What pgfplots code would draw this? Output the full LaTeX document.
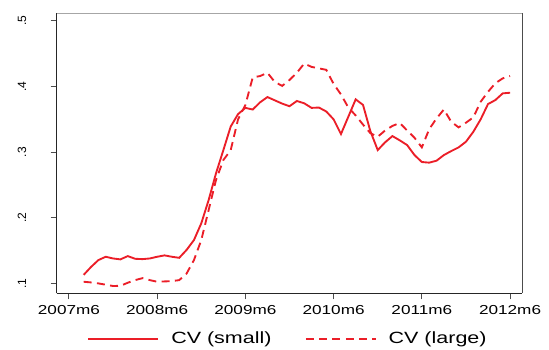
\documentclass[border=0pt]{standalone}
\usepackage{pgfplots}
\pgfplotsset{compat=1.18}
\usepackage{fontspec}
\setmainfont{Liberation Sans}[FakeStretch=1.32]
\newfontfamily\ysans{Liberation Sans}
\definecolor{cvred}{RGB}{235,30,40}
\begin{document}
\begin{tikzpicture}
\useasboundingbox (-42.5pt,-41.8pt) rectangle (369.2pt,220pt);
\begin{axis}[
  at={(0pt,0pt)}, anchor=south west,
  scale only axis, width=349.2pt, height=210pt,
  xmin=-1.67, xmax=61.67, ymin=0.0848, ymax=0.5116,
  axis x line*=bottom, axis y line*=left,
  axis line style={black!85, line width=1.1pt},
  xtick={0,12,24,36,48,60},
  xticklabels={2007m6,2008m6,2009m6,2010m6,2011m6,2012m6},
  ytick={0.1,0.2,0.3,0.4,0.5},
  yticklabels={.1,.2,.3,.4,.5},
  xtick align=outside, ytick align=outside, major tick length=4.5pt,
  every tick/.style={black!70, line width=0.7pt},
  xticklabel style={font=\fontsize{9.75}{11}\selectfont, anchor=base, inner sep=0pt, yshift=-11.5pt},
  yticklabel style={font=\ysans\fontsize{9}{10}\selectfont, rotate=90, anchor=base, inner sep=0pt, yshift=18.5pt},
  legend columns=2,
  legend style={draw=none, fill=none, at={(0.4946,-0.162)}, anchor=center,
    font=\fontsize{12.2}{14}\selectfont, inner sep=0pt,
    nodes={inner sep=0pt}, column sep=9pt,
    /tikz/every even column/.append style={column sep=25pt}},
  legend image code/.code={\draw[#1] (0pt,0pt) -- (52.5pt,0pt);},
  clip=false,
]
\addplot[cvred, line width=1.4pt] table[x=m,y=v] {
m v
2 .113
3 .125
4 .1355
5 .1406
6 .138
7 .1366
8 .1416
9 .1375
10 .137
11 .138
12 .1406
13 .1427
14 .1406
15 .139
16 .151
17 .166
18 .1915
19 .227
20 .2677
21 .303
22 .339
23 .358
24 .3675
25 .365
26 .376
27 .384
28 .379
29 .374
30 .370
31 .378
32 .3745
33 .3675
34 .368
35 .362
36 .350
37 .3276
38 .354
39 .3805
40 .372
41 .332
42 .3032
43 .315
44 .3245
45 .318
46 .3108
47 .2956
48 .285
49 .284
50 .287
51 .2956
52 .3017
53 .3073
54 .3159
55 .331
56 .35
57 .3733
58 .3794
59 .3896
60 .3906
};
\addlegendentry{CV (small)}
\addplot[cvred, line width=1.4pt, dash pattern=on 6pt off 4pt] table[x=m,y=v] {
m v
2 .1025
3 .1015
4 .100
5 .098
6 .096
7 .0963
8 .101
9 .105
10 .108
11 .105
12 .1025
13 .103
14 .1035
15 .105
16 .115
17 .1355
18 .166
19 .2117
20 .2575
21 .288
22 .303
23 .350
24 .372
25 .414
26 .416
27 .421
28 .407
29 .401
30 .410
31 .421
32 .435
33 .430
34 .4277
35 .4255
36 .404
37 .388
38 .368
39 .356
40 .342
41 .329
42 .3235
43 .333
44 .340
45 .3445
46 .333
47 .322
48 .3073
49 .335
50 .3515
51 .365
52 .3463
53 .3378
54 .3449
55 .353
56 .3768
57 .392
58 .405
59 .4125
60 .416
};
\addlegendentry{CV (large)}
\draw[gray!70, line width=1.1pt] (rel axis cs:0,1) -- (rel axis cs:1,1);
\draw[black!70, line width=1.1pt] (rel axis cs:1,1) -- (rel axis cs:1,0);
\end{axis}
\end{tikzpicture}
\end{document}
